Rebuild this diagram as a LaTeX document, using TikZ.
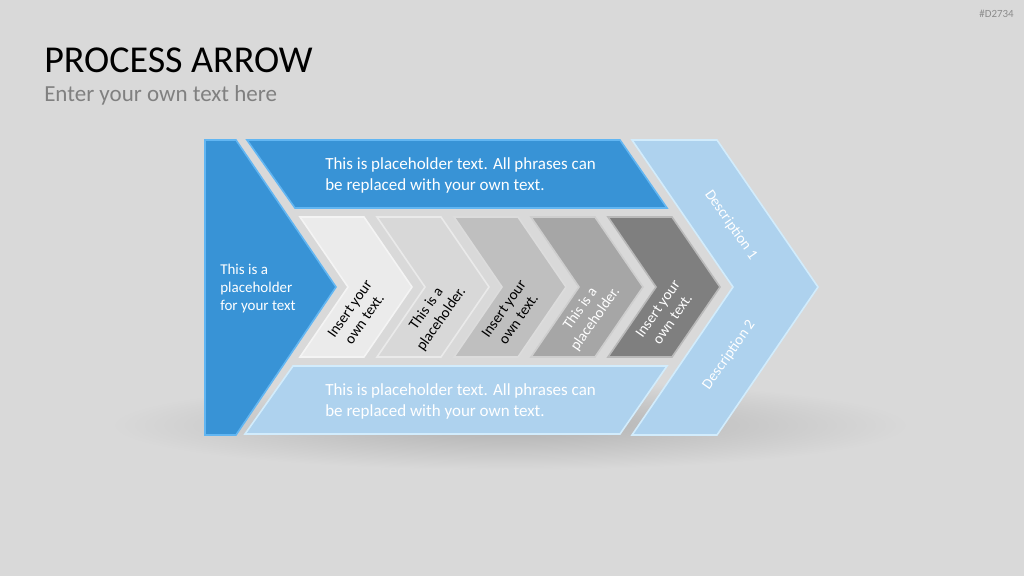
\documentclass[tikz,border=0pt]{standalone}
\usepackage{fontspec}
\setmainfont{Carlito}
\definecolor{bg}{HTML}{D9D9D9}
\definecolor{shadowc}{HTML}{B0B0B0}
\definecolor{dblue}{HTML}{3893D6}
\definecolor{dblueedge}{HTML}{62B6F2}
\definecolor{lblue}{HTML}{AED2EE}
\definecolor{lblueedge}{HTML}{D2ECFC}
\definecolor{ch1}{HTML}{EBEBEB}
\definecolor{ch2}{HTML}{D8D8D8}
\definecolor{ch3}{HTML}{BFBFBF}
\definecolor{ch4}{HTML}{A6A6A6}
\definecolor{ch5}{HTML}{7F7F7F}
\definecolor{subgray}{HTML}{808080}
\definecolor{idgray}{HTML}{8C8C8C}
\tikzset{
  bandtext/.style={text=white, align=left, inner sep=0pt, font=\fontsize{12.75}{15.75}\selectfont},
  smalltext/.style={align=center, inner sep=0pt, font=\fontsize{11.25}{13.5}\selectfont},
  darkshape/.style={fill=dblue, draw=dblueedge, line width=1.2},
  lightshape/.style={fill=lblue, draw=lblueedge, line width=1.2},
}
\begin{document}
\begin{tikzpicture}[x=0.75pt,y=-0.75pt]
\useasboundingbox (0,0) rectangle (1024,576);
\fill[bg] (0,0) rectangle (1024,576);
\shade[inner color=shadowc, outer color=bg] (510,425) ellipse (400 and 45);

% title
\node[anchor=base west, inner sep=0pt, font=\fontsize{28.5}{34}\selectfont] (title) at (44,72) {PROCESS ARROW};
\node[anchor=base west, inner sep=0pt, text=subgray, font=\fontsize{17.25}{20}\selectfont] (subtitle) at (44,101) {Enter your own text here};
\node[anchor=base east, inner sep=0pt, text=idgray, font=\fontsize{8.2}{10}\selectfont] (id) at (1014,17) {\#D2734};

% left blue shape
\path[darkshape] (205,140) -- (236,140) -- (336,287) -- (236,435) -- (205,435) -- cycle;
\node[smalltext, align=left, text=white, anchor=west] (lefttext) at (220,288) {This is a\\placeholder\\for your text};

% top band
\path[darkshape] (247,140) -- (620,140) -- (667,208) -- (295,208) -- cycle;
\node[bandtext, anchor=west] (toptext) at (325,175) {This is placeholder text. All phrases can\\be replaced with your own text.};

% bottom band
\path[lightshape] (293,366) -- (667,366) -- (620,434) -- (245,434) -- cycle;
\node[bandtext, anchor=west] (bottomtext) at (325,401) {This is placeholder text. All phrases can\\be replaced with your own text.};

% right chevron
\path[lightshape] (632,140) -- (717,140) -- (818,287) -- (717,435) -- (632,435) -- (733,287) -- cycle;
\node[smalltext, text=white, rotate=-55] (desc1) at (731,225) {Description 1};
\node[smalltext, text=white, rotate=55] (desc2) at (729,355) {Description 2};

% middle chevrons
\foreach \i/\col/\tcol/\txt in {0/ch1/black/{Insert your\\own text.}, 1/ch2/black/{This is a\\placeholder.}, 2/ch3/black/{Insert your\\own text.}, 3/ch4/white/{This is a\\placeholder.}, 4/ch5/white/{Insert your\\own text.}}{
  \pgfmathsetmacro\xo{300+77*\i}
  \path[fill=\col, draw=\col!55!white, line width=1.2] (\xo,217) -- ++(64,0) -- ++(48,70) -- ++(-48,70) -- ++(-64,0) -- ++(48,-70) -- cycle;
  \node[smalltext, text=\tcol, rotate=55] (c\i) at (\xo+57,314) {\txt};
}
\end{tikzpicture}
\end{document}
